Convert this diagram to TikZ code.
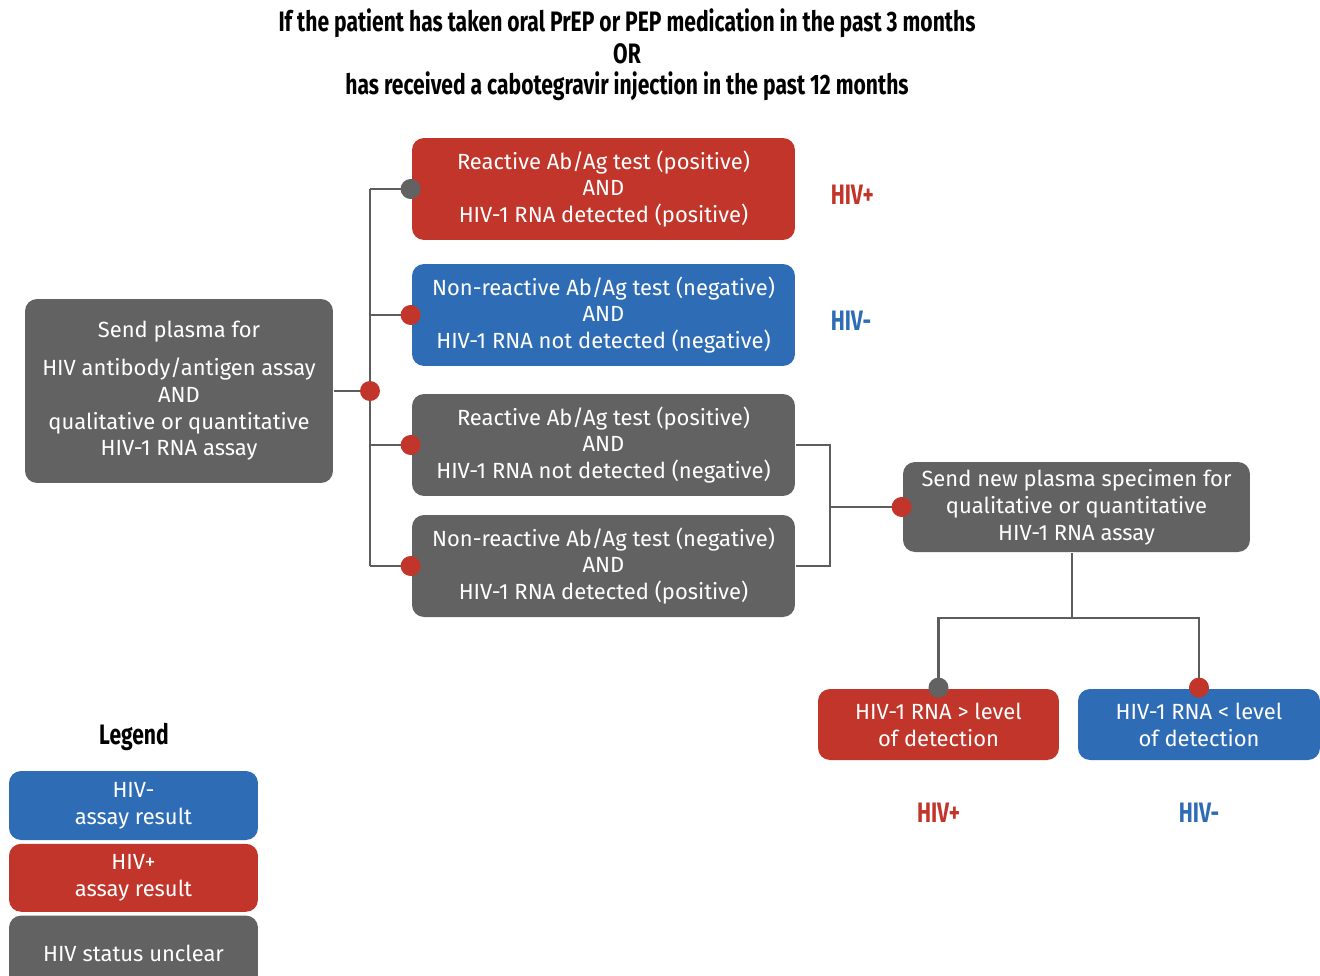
\documentclass[tikz,border=0pt]{standalone}
\usepackage{fontspec}
\setmainfont{Fira Sans}
\newfontfamily\headfont[FakeStretch=0.75]{Fira Sans}
\usepackage[dvipsnames]{xcolor}
\usetikzlibrary{positioning}

\definecolor{hivred}{HTML}{C1352A}
\definecolor{hivblue}{HTML}{2E6DB5}
\definecolor{hivgray}{HTML}{636262}
\definecolor{linkgray}{HTML}{5D5D5D}

\begin{document}
\begin{tikzpicture}[x=0.02cm,y=-0.02cm,line width=1.6pt,draw=linkgray,
    box/.style={rounded corners=0.24cm,text=white,align=center,inner sep=0pt,font=\fontsize{12.5}{15.3}\selectfont},
    red box/.style={box,fill=hivred},
    blue box/.style={box,fill=hivblue},
    gray box/.style={box,fill=hivgray},
    result box/.style={minimum width=7.66cm,minimum height=2.04cm},
    head/.style={inner sep=0pt,font=\headfont\bfseries\fontsize{16}{17.9}\selectfont},
    dot/.style={fill=hivred},
    gray dot/.style={fill=hivgray}]
    \useasboundingbox (0,0) rectangle (1320,975);
    \clip (0,0) rectangle (1320,975);

    % question
    \node[head,align=center] (q) at (627,55) {If the patient has taken oral PrEP or PEP medication in the past 3 months\\OR\\has received a cabotegravir injection in the past 12 months};

    % first test
    \node[gray box] (send) [minimum width=6.16cm,minimum height=3.68cm] at (179,391) {Send plasma for\\[6pt]HIV antibody/antigen assay\\AND\\qualitative or quantitative\\HIV-1 RNA assay};
    \coordinate (hub) at (370,391);

    \node[red box,result box] (r1) at (603.5,189) {Reactive Ab/Ag test (positive)\\AND\\HIV-1 RNA detected (positive)};
    \node[blue box,result box] (r2) at (603.5,315) {Non-reactive Ab/Ag test (negative)\\AND\\HIV-1 RNA not detected (negative)};
    \node[gray box,result box] (r3) at (603.5,445) {Reactive Ab/Ag test (positive)\\AND\\HIV-1 RNA not detected (negative)};
    \node[gray box,result box] (r4) at (603.5,566) {Non-reactive Ab/Ag test (negative)\\AND\\HIV-1 RNA detected (positive)};

    \node[head,text=hivred] (r1lbl) [right=0.66cm of r1,yshift=-0.11cm] {HIV+};
    \node[head,text=hivblue] (r2lbl) [right=0.66cm of r2,yshift=-0.11cm] {HIV-};

    % second test
    \node[gray box] (again) [minimum width=6.94cm,minimum height=1.8cm] at (1076.5,507) {Send new plasma specimen for\\qualitative or quantitative\\HIV-1 RNA assay};
    \coordinate (brk) at (830,507);
    \coordinate (split) at (1072,618);

    \node[red box] (hi) [minimum width=4.82cm,minimum height=1.42cm] at (938.5,724.5) {HIV-1 RNA > level\\of detection};
    \node[blue box] (lo) [minimum width=4.84cm,minimum height=1.42cm] at (1199,724.5) {HIV-1 RNA < level\\of detection};

    \node[head,text=hivred] (hilbl) [below=0.8cm of hi] {HIV+};
    \node[head,text=hivblue] (lolbl) [below=0.8cm of lo] {HIV-};

    % links
    \path
        (send) edge (hub)
        (hub |- r1.west) edge (hub |- r4.west)
        (hub |- r1.west) edge (r1.west)
        (hub |- r2.west) edge (r2.west)
        (hub |- r3.west) edge (r3.west)
        (hub |- r4.west) edge (r4.west)
        (brk) edge (again.west)
        (split |- again.south) edge (split)
        ;
    \draw (r3.east) -| (brk) |- (r4.east);
    \draw (hi.north) |- (split) -| (lo.north);

    \fill[dot] (hub) circle (0.2cm);
    \fill[gray dot] (r1.west) circle (0.2cm);
    \fill[dot] (r2.west) circle (0.2cm);
    \fill[dot] (r3.west) circle (0.2cm);
    \fill[dot] (r4.west) circle (0.2cm);
    \fill[dot] (again.west) circle (0.2cm);
    \fill[gray dot] (hi.north) circle (0.2cm);
    \fill[dot] (lo.north) circle (0.2cm);

    % legend
    \node[head] (legend) at (134,737) {Legend};
    \node[blue box] (keyneg) [minimum width=4.98cm,minimum height=1.38cm] at (133.5,805.5) {HIV-\\assay result};
    \node[red box] (keypos) [minimum width=4.98cm,minimum height=1.36cm,below=0.02cm of keyneg] {HIV+\\assay result};
    \node[gray box] (keyunc) [minimum width=4.98cm,minimum height=1.52cm,below=0.02cm of keypos] {HIV status unclear};
\end{tikzpicture}
\end{document}
